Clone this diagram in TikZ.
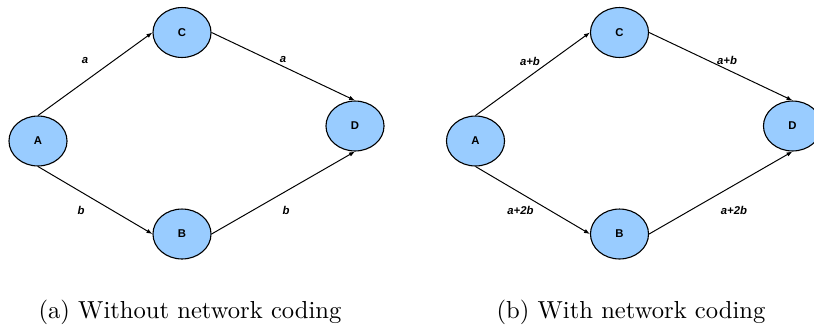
\documentclass[tikz,border=0pt]{standalone}
\usepackage{fontspec}
\newfontfamily\diagfont{Liberation Sans}
\usetikzlibrary{shapes.geometric,arrows.meta}
\definecolor{nodeblue}{RGB}{153,204,255}
\begin{document}
\begin{tikzpicture}[x=0.4065pt,y=-0.4065pt,
  vertex/.style={ellipse,draw=black,line width=0.45pt,fill=nodeblue,
    minimum width=23.6pt,minimum height=20.3pt,inner sep=0pt,
    font=\diagfont\bfseries\fontsize{4.6}{5.5}\selectfont},
  flow/.style={line width=0.4pt,-{Latex[length=2.4pt,width=1.8pt]}},
  flowlabel/.style={inner sep=0pt,font=\diagfont\bfseries\itshape\fontsize{4.6}{5.5}\selectfont},
  caption/.style={anchor=base,inner sep=0pt,font=\fontsize{10}{12}\selectfont}]
\useasboundingbox (0,0) rectangle (814,327);
\clip (0,0) rectangle (814,327);

% (a) routing only
\node[vertex] (a1) at (38,141) {A};
\node[vertex] (c1) at (182,32.5) {C};
\node[vertex] (b1) at (182,234) {B};
\node[vertex] (d1) at (355,126) {D};
\draw[flow] (a1.north) -- (c1.west);
\draw[flow] (c1.east) -- (d1.north);
\draw[flow] (a1.south) -- (b1.west);
\draw[flow] (b1.east) -- (d1.south);
\node[flowlabel] (la1) at (85,61) {a};
\node[flowlabel] (la2) at (283,60) {a};
\node[flowlabel] (lb1) at (81,210) {b};
\node[flowlabel] (lb2) at (286,210) {b};
\node[caption] (capa) at (190,318) {(a) Without network coding};

% (b) coded packets
\node[vertex] (a2) at (475.5,141) {A};
\node[vertex] (c2) at (619.5,32.5) {C};
\node[vertex] (b2) at (619.5,234) {B};
\node[vertex] (d2) at (792.5,126) {D};
\draw[flow] (a2.north) -- (c2.west);
\draw[flow] (c2.east) -- (d2.north);
\draw[flow] (a2.south) -- (b2.west);
\draw[flow] (b2.east) -- (d2.south);
\node[flowlabel] (lab1) at (530,61) {a+b};
\node[flowlabel] (lab2) at (727,60) {a+b};
\node[flowlabel] (la2b1) at (520.5,210) {a+2b};
\node[flowlabel] (la2b2) at (734,210) {a+2b};
\node[caption] (capb) at (631,318) {(b) With network coding};
\end{tikzpicture}
\end{document}
